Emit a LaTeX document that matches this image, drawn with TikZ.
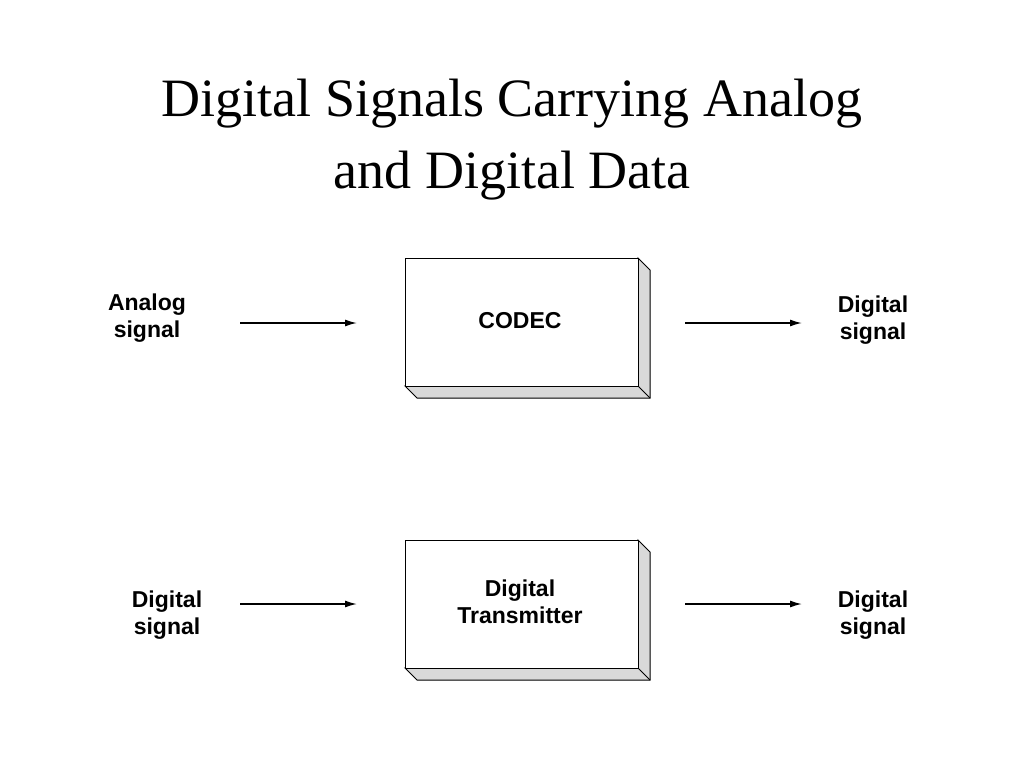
\documentclass[tikz,border=0pt]{standalone}
\usepackage{fontspec}
\setmainfont{Liberation Serif}
\newfontfamily\lsans{Liberation Sans}
\usetikzlibrary{arrows.meta}
\tikzset{
  lbl/.style={font=\lsans\bfseries\fontsize{23}{27}\selectfont, align=center},
  arr/.style={line width=1.5pt, -{Latex[length=12pt,width=7pt]}},
  face/.style={draw, line width=1pt, fill=white},
  side/.style={draw, line width=1pt, fill=gray!30}
}
\begin{document}
\begin{tikzpicture}[x=1pt,y=-1pt]
\useasboundingbox (0,0) rectangle (1024,768);
\node[font=\fontsize{54}{72}\selectfont, align=center] (title) at (512,140) {Digital Signals Carrying Analog\\and Digital Data};
% box 1
\draw[side] (405,386) -- (417,398) -- (650,398) -- (650,270) -- (638,258) -- (638,386) -- cycle;
\draw[side] (638,386) -- (650,398);
\node[face, minimum width=233pt, minimum height=128pt, anchor=north west] (codec) at (405,258) {};
\node[lbl] at (520,321) {CODEC};
% box 2
\draw[side] (405,668) -- (417,680) -- (650,680) -- (650,552) -- (638,540) -- (638,668) -- cycle;
\draw[side] (638,668) -- (650,680);
\node[face, minimum width=233pt, minimum height=128pt, anchor=north west] (tx) at (405,540) {};
\node[lbl] at (520,602) {Digital\\Transmitter};
% labels
\node[lbl] (in1) at (147,318) {Analog\\signal};
\node[lbl] (out1) at (873,320) {Digital\\signal};
\node[lbl] (in2) at (167,615) {Digital\\signal};
\node[lbl] (out2) at (873,615) {Digital\\signal};
\coordinate (a1) at (240,323); \coordinate (b1) at (357,323);
\coordinate (c1) at (685,323); \coordinate (d1) at (802,323);
\coordinate (a2) at (240,604); \coordinate (b2) at (357,604);
\coordinate (c2) at (685,604); \coordinate (d2) at (802,604);
\draw[arr] (a1) -- (b1);
\draw[arr] (c1) -- (d1);
\draw[arr] (a2) -- (b2);
\draw[arr] (c2) -- (d2);
\end{tikzpicture}
\end{document}
